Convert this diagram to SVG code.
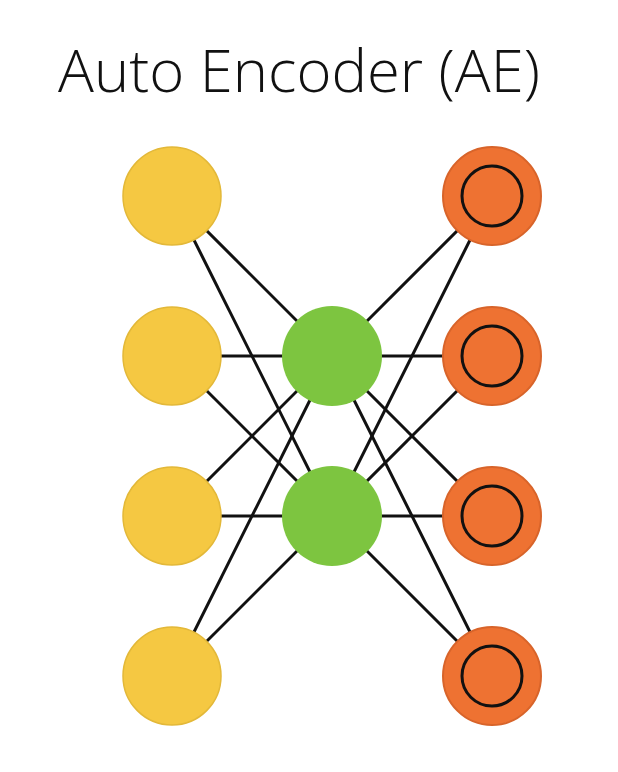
<svg xmlns="http://www.w3.org/2000/svg" width="618" height="772" viewBox="0 0 618 772">
<style>
.title{font-family:"Open Sans","DejaVu Sans",sans-serif;font-weight:300;font-size:58px;fill:#111}
.edge{stroke:#111;stroke-width:3;fill:none}
.in{fill:#F5C842;stroke:#E3B838;stroke-width:1.5}
.hid{fill:#7DC540}
.out{fill:#EE7232;stroke:#D8642A;stroke-width:2}
.ring{fill:none;stroke:#111;stroke-width:3}
</style>
<rect width="618" height="772" fill="#fff"/>
<text class="title" x="58" y="92" textLength="482" lengthAdjust="spacingAndGlyphs">Auto Encoder (AE)</text>
<g id="connectors">
<line class="edge" x1="172" y1="196" x2="332" y2="356"/>
<line class="edge" x1="172" y1="196" x2="332" y2="516"/>
<line class="edge" x1="172" y1="356" x2="332" y2="356"/>
<line class="edge" x1="172" y1="356" x2="332" y2="516"/>
<line class="edge" x1="172" y1="516" x2="332" y2="356"/>
<line class="edge" x1="172" y1="516" x2="332" y2="516"/>
<line class="edge" x1="172" y1="676" x2="332" y2="356"/>
<line class="edge" x1="172" y1="676" x2="332" y2="516"/>
<line class="edge" x1="332" y1="356" x2="492" y2="196"/>
<line class="edge" x1="332" y1="356" x2="492" y2="356"/>
<line class="edge" x1="332" y1="356" x2="492" y2="516"/>
<line class="edge" x1="332" y1="356" x2="492" y2="676"/>
<line class="edge" x1="332" y1="516" x2="492" y2="196"/>
<line class="edge" x1="332" y1="516" x2="492" y2="356"/>
<line class="edge" x1="332" y1="516" x2="492" y2="516"/>
<line class="edge" x1="332" y1="516" x2="492" y2="676"/>
</g>
<g id="in1"><circle class="in" cx="172" cy="196" r="49"/></g>
<g id="in2"><circle class="in" cx="172" cy="356" r="49"/></g>
<g id="in3"><circle class="in" cx="172" cy="516" r="49"/></g>
<g id="in4"><circle class="in" cx="172" cy="676" r="49"/></g>
<g id="hid1"><circle class="hid" cx="332" cy="356" r="50"/></g>
<g id="hid2"><circle class="hid" cx="332" cy="516" r="50"/></g>
<g id="out1"><circle class="out" cx="492" cy="196" r="49"/><circle class="ring" cx="492" cy="196" r="30"/></g>
<g id="out2"><circle class="out" cx="492" cy="356" r="49"/><circle class="ring" cx="492" cy="356" r="30"/></g>
<g id="out3"><circle class="out" cx="492" cy="516" r="49"/><circle class="ring" cx="492" cy="516" r="30"/></g>
<g id="out4"><circle class="out" cx="492" cy="676" r="49"/><circle class="ring" cx="492" cy="676" r="30"/></g>
</svg>
